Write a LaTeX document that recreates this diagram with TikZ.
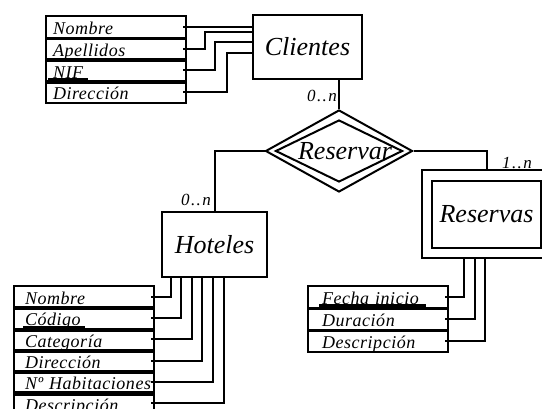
\documentclass[tikz,border=0pt]{standalone}
\usepackage{fontspec}
\setmainfont{Liberation Serif}
\usetikzlibrary{shapes.geometric}

\begin{document}
\begin{tikzpicture}[x=1pt, y=-1pt, line width=2pt,
  ent/.style={draw, rectangle, inner sep=0pt, font=\itshape\fontsize{26}{26}\selectfont},
  rel/.style={draw, diamond, inner sep=0pt},
  attr/.style={draw, rectangle, anchor=north west, minimum width=140pt, minimum height=21.6pt, text width=#1, inner xsep=0pt, inner ysep=0pt, text height=15.5pt, text depth=0pt, align=left, font=\itshape\fontsize{18}{18}\selectfont\addfontfeature{LetterSpace=3}},
  sep/.style={line width=3.5pt},
  card/.style={inner sep=0pt, font=\itshape\fontsize{17}{17}\selectfont\addfontfeature{LetterSpace=8}}]
\path[use as bounding box, clip] (0,0) rectangle (542,409);

\node[ent, minimum width=109pt, minimum height=64pt] (cli) at (307.5,47) {Clientes};
\node[ent, minimum width=105pt, minimum height=65pt] (hot) at (214.5,244.5) {Hoteles};
\node[draw, rectangle, minimum width=130pt, minimum height=88pt] (rss) at (487,214) {};
\node[ent, minimum width=109pt, minimum height=67pt] (rssi) at (486.5,214.5) {Reservas};

\node[rel, minimum width=147pt, minimum height=82pt] (rsv) at (339,151) {};
\node[rel, minimum width=127pt, minimum height=62pt] (rsvi) at (339,151) {};
\node[inner sep=0pt, font=\itshape\fontsize{26}{26}\selectfont] (rsvt) at (345,151) {Reservar};

\node[card] (k0) at (322,96) {0..n};
\node[card] (k1) at (196,200) {0..n};
\node[card] (k2) at (517,163) {1..n};

\draw (cli.south -| rsv.north) -- (rsv.north);
\draw (rsv.west) -| (hot.north);
\draw (rsv.east) -| (rss.north);

\node[attr=126pt] (ca0) at (45,15) {Nombre};
\node[attr=126pt] (ca1) at (45,36.75) {Apellidos};
\node[attr=126pt] (ca2) at (45,58.5) {NIF};
\node[attr=126pt] (ca3) at (45,80.25) {Dirección};
\draw[sep] (ca0.south west) -- (ca0.south east);
\draw[sep] (ca1.south west) -- (ca1.south east);
\draw[sep] ([xshift=3pt,yshift=2pt]ca2.south west) -- ([xshift=43pt,yshift=2pt]ca2.south west);
\draw[sep] (ca2.south west) -- (ca2.south east);

\draw ([xshift=-4pt]ca0.east) -- (ca0.east -| cli.west);
\draw ([xshift=-4pt]ca1.east) -- ++(22,0) |- ([yshift=-18pt]cli.north west);
\draw ([xshift=-4pt]ca2.east) -- ++(32,0) |- ([yshift=-28pt]cli.north west);
\draw ([xshift=-4pt]ca3.east) -- ++(44,0) |- ([yshift=-39pt]cli.north west);

\node[attr=118pt] (ha0) at (13,285) {Nombre};
\node[attr=118pt] (ha1) at (13,306.3) {Código};
\node[attr=118pt] (ha2) at (13,327.6) {Categoría};
\node[attr=118pt] (ha3) at (13,348.9) {Dirección};
\node[attr=118pt] (ha4) at (13,370.2) {\mbox{Nº Habitaciones}};
\node[attr=118pt] (ha5) at (13,391.5) {Descripción};
\draw[sep] (ha0.south west) -- (ha0.south east);
\draw[sep] ([xshift=10pt,yshift=2pt]ha1.south west) -- ([xshift=72pt,yshift=2pt]ha1.south west);
\draw[sep] (ha1.south west) -- (ha1.south east);
\draw[sep] (ha2.south west) -- (ha2.south east);
\draw[sep] (ha3.south west) -- (ha3.south east);
\draw[sep] (ha4.south west) -- (ha4.south east);

\draw ([xshift=10pt]hot.south west) |- ([xshift=-4pt]ha0.east);
\draw ([xshift=20pt]hot.south west) |- ([xshift=-4pt]ha1.east);
\draw ([xshift=31pt]hot.south west) |- ([xshift=-4pt]ha2.east);
\draw ([xshift=41pt]hot.south west) |- ([xshift=-4pt]ha3.east);
\draw ([xshift=52pt]hot.south west) |- ([xshift=-4pt]ha4.east);
\draw ([xshift=63pt]hot.south west) |- ([xshift=-4pt]ha5.east);

\node[attr=112pt] (ra0) at (307,285) {Fecha inicio};
\node[attr=112pt] (ra1) at (307,307) {Duración};
\node[attr=112pt] (ra2) at (307,329) {Descripción};
\draw[sep] ([xshift=12pt,yshift=3pt]ra0.south west) -- ([xshift=119pt,yshift=3pt]ra0.south west);
\draw[sep] (ra0.south west) -- (ra0.south east);
\draw[sep] (ra1.south west) -- (ra1.south east);

\draw ([xshift=43pt]rss.south west) |- ([xshift=-4pt]ra0.east);
\draw ([xshift=54pt]rss.south west) |- ([xshift=-4pt]ra1.east);
\draw ([xshift=64pt]rss.south west) |- ([xshift=-4pt]ra2.east);

\end{tikzpicture}
\end{document}
